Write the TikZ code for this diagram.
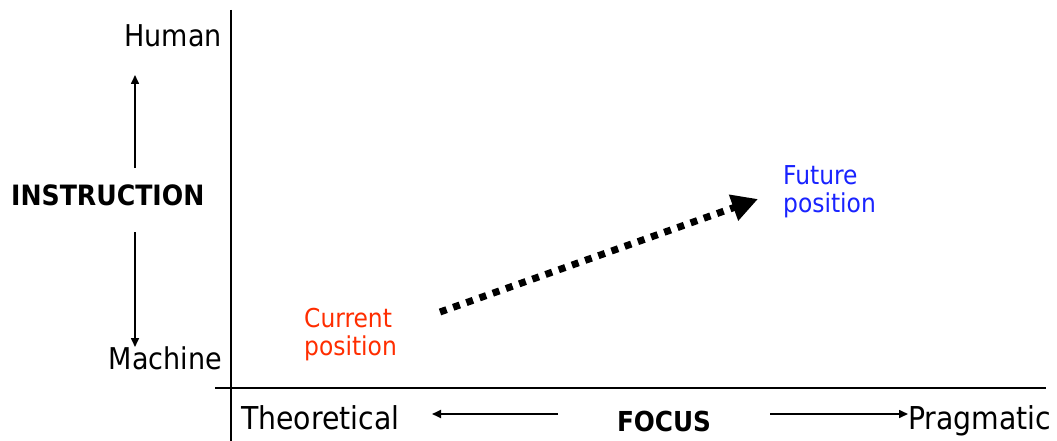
\documentclass[tikz,border=0pt]{standalone}
\usepackage{fontspec}
\setmainfont{DejaVu Sans Condensed}
\usetikzlibrary{arrows.meta}
\definecolor{currentred}{RGB}{255,45,0}
\definecolor{futureblue}{RGB}{25,35,255}
\begin{document}
\begin{tikzpicture}[
    x=1pt, y=-1pt,
    every node/.style={inner sep=0pt,font=\fontsize{30}{34}\selectfont},
    axisline/.style={line width=1.5pt},
    thinarrow/.style={line width=1.6pt,-{Triangle[length=9pt,width=8pt]}},
    poslabel/.style={align=left,anchor=north west,
        font=\fontsize{26}{28}\selectfont},
    endword/.style={font=\fontsize{31.5}{34}\selectfont},
    bigword/.style={font=\bfseries\fontsize{28}{30}\selectfont}]
    \useasboundingbox (0,0) rectangle (1057,441);
    % Ejes
    \draw[axisline] (231,10) -- (231,441);
    \draw[axisline] (215,388) -- (1046,388);

    \node[anchor=base east] (human) at (222,47) {Human};
    \node[anchor=base east] (machine) at (222,369) {Machine};
    \node[bigword,anchor=base west] (instruction) at (11,205) {INSTRUCTION};
    \node[endword,anchor=base west] (theoretical) at (241,429) {Theoretical};
    \node[bigword,font=\bfseries\fontsize{27.5}{30}\selectfont,anchor=base]
        (focus) at (664,431) {FOCUS};
    \node[endword,anchor=base west] (pragmatic) at (908,429) {Pragmatic};

    \node[poslabel,text=currentred] (current) at (304,308) {Current\\position};
    \node[poslabel,text=futureblue] (future) at (783,165) {Future\\position};

    % Flechas de los ejes
    \coordinate (upstart) at (135,168);
    \coordinate (upend) at (135,75);
    \coordinate (downstart) at (135,232);
    \coordinate (downend) at (135,347);
    \coordinate (leftstart) at (558,414);
    \coordinate (leftend) at (432,414);
    \coordinate (rightstart) at (770,414);
    \draw[thinarrow] (upstart) -- (upend);
    \draw[thinarrow] (downstart) -- (downend);
    \draw[thinarrow,line width=2pt] (leftstart) -- (leftend);
    \draw[thinarrow] (rightstart) -- (pragmatic.west |- rightstart);

    % Cambio de posicion
    \coordinate (from) at (440,312);
    \coordinate (to) at (758,199);
    \draw[line width=7pt,dash pattern=on 7pt off 7pt,
        -{Triangle[length=26pt,width=26pt]}] (from) -- (to);
\end{tikzpicture}
\end{document}
